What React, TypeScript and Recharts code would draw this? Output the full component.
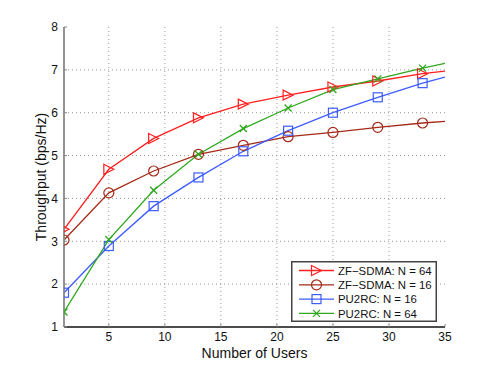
import React from "react";
import {
  LineChart,
  Line,
  XAxis,
  YAxis,
  CartesianGrid,
} from "recharts";

const users = [1, 5, 9, 13, 17, 21, 25, 29, 33, 35];
const zf64 = [3.28, 4.68, 5.4, 5.88, 6.2, 6.41, 6.6, 6.74, 6.91, 6.97];
const zf16 = [3.03, 4.13, 4.64, 5.03, 5.24, 5.44, 5.54, 5.66, 5.76, 5.8];
const pu16 = [1.8, 2.89, 3.82, 4.49, 5.1, 5.58, 6.0, 6.36, 6.69, 6.83];
const pu64 = [1.35, 3.04, 4.19, 5.03, 5.63, 6.11, 6.54, 6.79, 7.04, 7.15];
const markerUsers = [1, 5, 9, 13, 17, 21, 25, 29, 33];
const xTicks = [5, 10, 15, 20, 25, 30, 35];
const yTicks = [1, 2, 3, 4, 5, 6, 7, 8];

const seriesNames = [
  "ZF\u2212SDMA: N = 64",
  "ZF\u2212SDMA: N = 16",
  "PU2RC: N = 16",
  "PU2RC: N = 64",
];

const data = users.map((u, i) => ({
  x: u,
  zf64: zf64[i],
  zf16: zf16[i],
  pu16: pu16[i],
  pu64: pu64[i],
}));

const RED = "#ff2020";
const BROWN = "#a52a18";
const BLUE = "#3d5cff";
const GREEN = "#2fa81f";

type Kind = "tri" | "circ" | "sq" | "x";

function Marker({ kind, cx, cy, color }: { kind: Kind; cx: number; cy: number; color: string }) {
  const s = 5;
  if (kind === "tri")
    return (
      <polygon
        points={`${cx - s},${cy - s} ${cx + s},${cy} ${cx - s},${cy + s}`}
        fill="none"
        stroke={color}
        strokeWidth={1.2}
      />
    );
  if (kind === "circ")
    return <circle cx={cx} cy={cy} r={5} fill="none" stroke={color} strokeWidth={1.2} />;
  if (kind === "sq")
    return (
      <rect x={cx - 4.5} y={cy - 4.5} width={9} height={9} fill="none" stroke={color} strokeWidth={1.2} />
    );
  return (
    <g stroke={color} strokeWidth={1.3}>
      <line x1={cx - 3.5} y1={cy - 3.5} x2={cx + 3.5} y2={cy + 3.5} />
      <line x1={cx - 3.5} y1={cy + 3.5} x2={cx + 3.5} y2={cy - 3.5} />
    </g>
  );
}

const makeDot = (kind: Kind, color: string) => (props: any) => {
  const { cx, cy, payload, index } = props;
  if (!markerUsers.includes(payload.x)) return <g key={`d-${kind}-${index}`} />;
  return (
    <g key={`d-${kind}-${index}`}>
      <Marker kind={kind} cx={cx} cy={cy} color={color} />
    </g>
  );
};

const legendItems: { name: string; color: string; kind: Kind }[] = [
  { name: seriesNames[0], color: RED, kind: "tri" },
  { name: seriesNames[1], color: BROWN, kind: "circ" },
  { name: seriesNames[2], color: BLUE, kind: "sq" },
  { name: seriesNames[3], color: GREEN, kind: "x" },
];

const font = "Liberation Sans, Arial, sans-serif";

function LegendBox() {
  return (
    <svg width={146} height={61} style={{ display: "block" }}>
      <rect x={0.75} y={0.75} width={144.5} height={59.5} fill="#fff" stroke="#444" strokeWidth={1.5} />
      {legendItems.map((it, i) => {
        const y = 9.5 + i * 14.3;
        return (
          <g key={it.name}>
            <line x1={8} x2={43} y1={y} y2={y} stroke={it.color} strokeWidth={1.3} />
            <Marker kind={it.kind} cx={25.5} cy={y} color={it.color} />
            <text x={47} y={y + 4.2} fontSize={11.4} fontFamily={font} fill="#111">
              {it.name}
            </text>
          </g>
        );
      })}
    </svg>
  );
}

export default function App() {
  return (
    <div style={{ position: "absolute", left: 0, top: 0, width: 491, height: 369, background: "#fff" }}>
      <LineChart
        width={491}
        height={369}
        data={data}
        margin={{ top: 27, right: 46, left: 34, bottom: 12 }}
      >
        <CartesianGrid
          stroke="#999"
          strokeDasharray="1 3"
          horizontalValues={[2, 3, 4, 5, 6, 7]}
          verticalValues={[5, 10, 15, 20, 25, 30]}
        />
        <XAxis
          dataKey="x"
          type="number"
          domain={[1, 35]}
          ticks={xTicks}
          allowDataOverflow
          height={30}
          stroke="#111"
          tickSize={-3}
          tickMargin={8}
          tick={{ fill: "#111", fontSize: 12, fontFamily: font }}
          tickLine={{ stroke: "#888" }}
          axisLine={{ stroke: "#111", strokeWidth: 1.3 }}
          label={{
            value: "Number of Users",
            position: "insideBottom",
            offset: -1,
            fill: "#111",
            fontSize: 14,
            fontFamily: font,
          }}
        />
        <XAxis
          xAxisId="top"
          dataKey="x"
          type="number"
          domain={[1, 35]}
          orientation="top"
          ticks={xTicks}
          height={0}
          tick={false}
          tickSize={0}
          axisLine={{ stroke: "#111", strokeWidth: 1.3 }}
        />
        <YAxis
          type="number"
          domain={[1, 8]}
          ticks={yTicks}
          width={30}
          tickSize={-3}
          tickMargin={9}
          tick={{ fill: "#111", fontSize: 12, fontFamily: font }}
          tickLine={{ stroke: "#888" }}
          axisLine={{ stroke: "#888", strokeWidth: 1.8 }}
          label={{
            value: "Throughput (bps/Hz)",
            angle: -90,
            position: "insideLeft",
            offset: 7,
            style: { textAnchor: "middle" },
            fill: "#111",
            fontSize: 14,
            fontFamily: font,
          }}
        />
        <YAxis
          yAxisId="right"
          type="number"
          domain={[1, 8]}
          orientation="right"
          ticks={yTicks}
          width={0}
          tick={false}
          tickSize={0}
          axisLine={{ stroke: "#888", strokeWidth: 1.8 }}
        />
        <Line
          dataKey="zf64"
          name={seriesNames[0]}
          stroke={RED}
          strokeWidth={1.3}
          dot={makeDot("tri", RED)}
          isAnimationActive={false}
        />
        <Line
          dataKey="zf16"
          name={seriesNames[1]}
          stroke={BROWN}
          strokeWidth={1.3}
          dot={makeDot("circ", BROWN)}
          isAnimationActive={false}
        />
        <Line
          dataKey="pu16"
          name={seriesNames[2]}
          stroke={BLUE}
          strokeWidth={1.3}
          dot={makeDot("sq", BLUE)}
          isAnimationActive={false}
        />
        <Line
          dataKey="pu64"
          name={seriesNames[3]}
          stroke={GREEN}
          strokeWidth={1.3}
          dot={makeDot("x", GREEN)}
          isAnimationActive={false}
        />
      </LineChart>
      <div style={{ position: "absolute", left: 291, top: 261, width: 146, height: 61 }}>
        <LegendBox />
      </div>
    </div>
  );
}
